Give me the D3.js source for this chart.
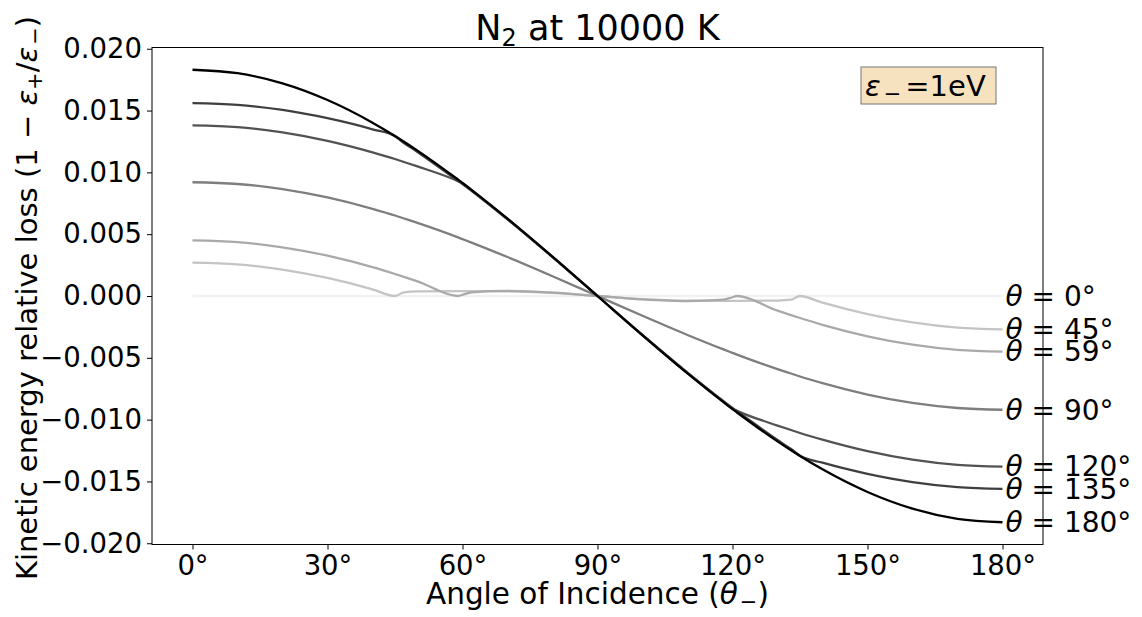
<!DOCTYPE html>
<html>
<head>
<meta charset="utf-8">
<script src="https://cdn.jsdelivr.net/npm/d3@7"></script>
<style>
  body { margin: 0; background: #fff; }
  svg text { font-family: "DejaVu Sans", sans-serif; fill: #000; }
</style>
</head>
<body>
<script>
const angles = [0, 10, 20, 30, 40, 45, 47, 50, 59, 60, 62, 70, 80, 90, 100, 110, 118, 120, 121, 130, 133, 135, 140, 150, 160, 170, 180];

const theta0 = [0, 0, 0, 0, 0, 0, 0, 0, 0, 0, 0, 0, 0, 0, 0, 0, 0, 0, 0, 0, 0, 0, 0, 0, 0, 0, 0];
const theta45 = [.0027, .00256, .00214, .00146, .00054, 0, .0003, .00037, .0004, .0004, .0004, .00038, .00025, 0, -.00025, -.00038, -.0004, -.0004, -.0004, -.00037, -.0003, 0, -.00054, -.00146, -.00214, -.00256, -.0027];
const theta59 = [.0045, .00436, .00394, .00326, .00233, .00178, .00155, .00119, 0, .0001, .0003, .00042, .00028, 0, -.00028, -.00042, -.0003, -.0001, 0, -.00119, -.00155, -.00178, -.00233, -.00326, -.00394, -.00436, -.0045];
const theta90 = [.0092, .00906, .00865, .00797, .00705, .00651, .00627, .00591, .00474, .0046, .00432, .00315, .0016, 0, -.0016, -.00315, -.00432, -.0046, -.00474, -.00591, -.00627, -.00651, -.00705, -.00797, -.00865, -.00906, -.0092];
const theta120 = [.0138, .01366, .01324, .01255, .01162, .01108, .01084, .01048, .00929, .00912, .00856, .00624, .00317, 0, -.00317, -.00624, -.00856, -.00912, -.00929, -.01048, -.01084, -.01108, -.01162, -.01255, -.01324, -.01366, -.0138];
const theta135 = [.0156, .01546, .01505, .01438, .01348, .01292, .01238, .01165, .00932, .00906, .00851, .00620, .00315, 0, -.00315, -.00620, -.00851, -.00906, -.00932, -.01165, -.01238, -.01292, -.01348, -.01438, -.01505, -.01546, -.0156];
const theta180 = [.0183, .01802, .0172, .01585, .01402, .01294, .01248, .01176, .00942, .00915, .00859, .00626, .00318, 0, -.00318, -.00626, -.00859, -.00915, -.00942, -.01176, -.01248, -.01294, -.01402, -.01585, -.0172, -.01802, -.0183];

const seriesNames = ["0°", "45°", "59°", "90°", "120°", "135°", "180°"];
const seriesValues = [theta0, theta45, theta59, theta90, theta120, theta135, theta180];
const seriesColors = ["#f2f2f2", "#c4c4c4", "#a9a9a9", "#7e7e7e", "#525252", "#3f3f3f", "#000000"];

const xTicks = [0, 30, 60, 90, 120, 150, 180];
const yTicks = [-0.02, -0.015, -0.01, -0.005, 0, 0.005, 0.01, 0.015, 0.02];

const width = 1142, height = 617;
const margin = { top: 47.5, right: 99, bottom: 72.5, left: 152 };

const svg = d3.select("body").append("svg")
  .attr("width", width)
  .attr("height", height);

const x = d3.scaleLinear()
  .domain([-9, 189])
  .range([margin.left, width - margin.right]);

const y = d3.scaleLinear()
  .domain([-0.0201, 0.0201])
  .range([height - margin.bottom, margin.top]);

const line = d3.line()
  .x((d, i) => x(angles[i]))
  .y(d => y(d))
  .curve(d3.curveMonotoneX);

svg.append("g")
  .attr("fill", "none")
  .attr("stroke-width", 2.3)
  .attr("stroke-linejoin", "round")
  .selectAll("path")
  .data(seriesValues)
  .join("path")
  .attr("stroke", (d, i) => seriesColors[i])
  .attr("d", d => line(d));

// axes
const xAxis = svg.append("g")
  .attr("transform", `translate(0,${height - margin.bottom})`)
  .call(d3.axisBottom(x).tickValues(xTicks).tickFormat(d => d + "°").tickSize(5).tickPadding(6));
const yAxis = svg.append("g")
  .attr("transform", `translate(${margin.left},0)`)
  .call(d3.axisLeft(y).tickValues(yTicks).tickFormat(d3.format(".3f")).tickSize(5).tickPadding(5));

[xAxis, yAxis].forEach(g => {
  g.selectAll("text").style("font-size", "27.5px").attr("fill", "#000");
  g.selectAll("line").attr("stroke", "#000").attr("stroke-width", 1);
  g.select(".domain").remove();
});
yAxis.selectAll("text").text(d => d3.format(".3f")(d).replace("-", "−"));

// frame
svg.append("rect")
  .attr("x", margin.left)
  .attr("y", margin.top)
  .attr("width", width - margin.right - margin.left)
  .attr("height", height - margin.bottom - margin.top)
  .attr("fill", "none")
  .attr("stroke", "#000")
  .attr("stroke-width", 1);

// curve labels at the right end
const lab = svg.append("g").selectAll("text")
  .data(seriesValues)
  .join("text")
  .attr("x", x(180) + 3)
  .attr("y", d => y(d[d.length - 1]))
  .attr("dy", "0.35em")
  .style("font-size", "28px");
lab.append("tspan").style("font-style", "italic").text("θ");
lab.append("tspan").text((d, i) => " = " + seriesNames[i]);

// title
const title = svg.append("text")
  .attr("x", (margin.left + width - margin.right) / 2)
  .attr("y", 40)
  .attr("text-anchor", "middle")
  .style("font-size", "35px");
title.append("tspan").text("N");
title.append("tspan").attr("baseline-shift", "-25%").style("font-size", "24px").text("2");
title.append("tspan").text(" at 10000 K");

// x label
const xl = svg.append("text")
  .attr("x", (margin.left + width - margin.right) / 2)
  .attr("y", 604)
  .attr("text-anchor", "middle")
  .style("font-size", "29.5px");
xl.append("tspan").text("Angle of Incidence (");
xl.append("tspan").style("font-style", "italic").text("θ");
xl.append("tspan").attr("dx", 2).attr("baseline-shift", "-25%").style("font-size", "21px").text("−");
xl.append("tspan").text(")");

// y label
const yl = svg.append("text")
  .attr("transform", `translate(37,${(margin.top + height - margin.bottom) / 2 + 2}) rotate(-90)`)
  .attr("text-anchor", "middle")
  .style("font-size", "29px");
yl.append("tspan").text("Kinetic energy relative loss (1 − ");
yl.append("tspan").style("font-style", "italic").text("ε");
yl.append("tspan").attr("baseline-shift", "-25%").style("font-size", "21px").text("+");
yl.append("tspan").text("/");
yl.append("tspan").style("font-style", "italic").text("ε");
yl.append("tspan").attr("dx", 2).attr("baseline-shift", "-25%").style("font-size", "21px").text("−");
yl.append("tspan").text(")");

// energy box
const box = svg.append("g").attr("transform", "translate(861,67)");
box.append("rect")
  .attr("width", 135)
  .attr("height", 37)
  .attr("fill", "#f7e2c0")
  .attr("stroke", "#777")
  .attr("stroke-width", 1);
const bt = box.append("text")
  .attr("x", 4)
  .attr("y", 29)
  .style("font-size", "29px");
bt.append("tspan").style("font-style", "italic").text("ε");
bt.append("tspan").attr("dx", 3).attr("baseline-shift", "-25%").style("font-size", "21px").text("−");
bt.append("tspan").attr("dx", 4).text("=1eV");
</script>
</body>
</html>
